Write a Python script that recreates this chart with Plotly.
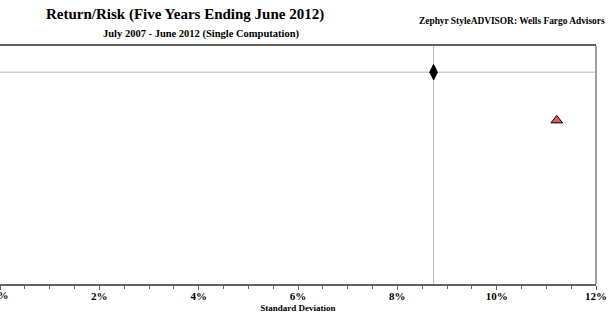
import plotly.graph_objects as go

# Return/Risk points (standard deviation %, return %)
names = ["Benchmark", "Manager"]
std_dev = [8.73, 11.21]
returns = [1.12, -0.50]
symbols = ["diamond-tall", "triangle-up"]
fills = ["#000000", "#e8585a"]

x_ticks = [0, 2, 4, 6, 8, 10, 12]
x_labels = ["0%", "2%", "4%", "6%", "8%", "10%", "12%"]

serif = "Liberation Serif"

fig = go.Figure()

# crosshairs through the benchmark
fig.add_hline(y=returns[0], line=dict(color="#b8b8b8", width=1), layer="below")
fig.add_vline(x=std_dev[0], line=dict(color="#b8b8b8", width=1), layer="below")

for i in range(len(names)):
    fig.add_trace(go.Scatter(
        x=[std_dev[i]], y=[returns[i]], mode="markers", name=names[i],
        marker=dict(symbol=symbols[i], size=[11, 10][i], color=fills[i],
                    line=dict(color="#000000", width=1)),
        showlegend=False, cliponaxis=False,
    ))

fig.update_xaxes(
    range=[0, 12], tickvals=x_ticks, ticktext=["<b>" + t + "</b>" for t in x_labels],
    showgrid=False, zeroline=False,
    showline=True, linecolor="#606060", linewidth=2, mirror=True,
    ticks="outside", ticklen=4, tickcolor="#606060", tickwidth=1,
    minor=dict(dtick=0.5, ticks="outside", ticklen=3, tickcolor="#606060", tickwidth=1),
    tickfont=dict(family=serif, size=11, color="#000000"),
    ticklabelstandoff=-3,
    title=dict(text="<b>Standard Deviation</b>", font=dict(family=serif, size=9, color="#000000"),
               standoff=3),
    automargin=False,
)
fig.update_yaxes(
    range=[-6, 2], showgrid=False, zeroline=False, showline=False,
    showticklabels=False, ticks="", automargin=False,
)

# 0% label sits on the page edge, plotly drops it, so draw it as text
fig.add_annotation(text="<b>" + x_labels[0] + "</b>", x=x_ticks[0], xref="x",
                   y=0, yref="paper", yshift=-11, xanchor="center", yanchor="middle",
                   showarrow=False, font=dict(family=serif, size=11, color="#000000"))

# right border
fig.add_shape(type="line", xref="paper", yref="paper", x0=1, x1=1, y0=0, y1=1,
              line=dict(color="#a0a0a0", width=2))

fig.add_annotation(text="<b>Return/Risk (Five Years Ending June 2012)</b>",
                   xref="paper", yref="paper", x=185 / 596, y=1, yshift=32,
                   xanchor="center", yanchor="middle", showarrow=False,
                   font=dict(family=serif, size=15, color="#000000"))
fig.add_annotation(text="<b>July 2007 - June 2012 (Single Computation)</b>",
                   xref="paper", yref="paper", x=201 / 596, y=1, yshift=12,
                   xanchor="center", yanchor="middle", showarrow=False,
                   font=dict(family=serif, size=10.5, color="#000000"))
fig.add_annotation(text="<b>Zephyr StyleADVISOR: Wells Fargo Advisors</b>",
                   xref="paper", yref="paper", x=607 / 596, y=1, yshift=25,
                   xanchor="right", yanchor="middle", showarrow=False,
                   font=dict(family=serif, size=9.4, color="#000000"))

fig.update_layout(
    width=614, height=323,
    margin=dict(l=0, r=18, t=46, b=39),
    plot_bgcolor="#ffffff", paper_bgcolor="#ffffff",
)

fig.write_html("out.html", config={"displayModeBar": False},
               post_script="document.body.style.margin='0px';")
